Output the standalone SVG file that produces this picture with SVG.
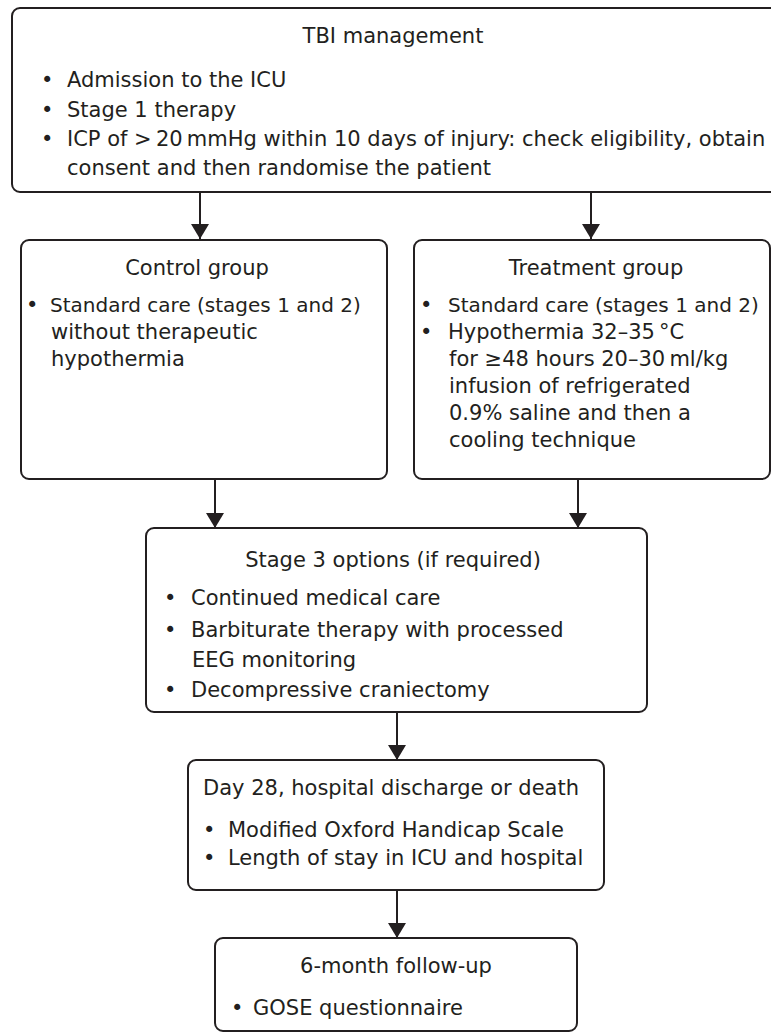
<svg xmlns="http://www.w3.org/2000/svg" width="771" height="1035" viewBox="0 0 771 1035">
<style>
.box{fill:#fff;stroke:#231f20;stroke-width:2}
.t{font-family:"DejaVu Sans","Noto Sans",sans-serif;font-size:21px;fill:#231f20}
.s{font-size:20px}
.m{text-anchor:middle}
.c{stroke:#231f20;stroke-width:2;fill:none;marker-end:url(#ah)}
</style>
<defs>
<marker id="ah" markerUnits="userSpaceOnUse" viewBox="0 0 15 18" refX="15" refY="9" markerWidth="15" markerHeight="18" orient="auto">
<path d="M0,0 L15,9 L0,18 Z" fill="#231f20"/>
</marker>
</defs>
<rect width="771" height="1035" fill="#fff"/>
<g id="connectors">
<line class="c" x1="200" y1="192" x2="200" y2="239"/>
<line class="c" x1="591" y1="192" x2="591" y2="239"/>
<line class="c" x1="215" y1="479" x2="215" y2="528"/>
<line class="c" x1="578" y1="479" x2="578" y2="528"/>
<line class="c" x1="397" y1="712" x2="397" y2="760"/>
<line class="c" x1="397" y1="890" x2="397" y2="938"/>
</g>
<g id="tbi">
<rect class="box" x="12" y="8" width="770" height="184" rx="8"/>
<text class="t m" x="393" y="43">TBI management</text>
<text class="t" x="41" y="87">•</text><text class="t" x="67" y="87">Admission to the ICU</text>
<text class="t" x="41" y="117">•</text><text class="t" x="67" y="117">Stage 1 therapy</text>
<text class="t" x="41" y="146">•</text><text class="t" x="67" y="146">ICP of &gt;&#8201;20&#8201;mmHg within 10 days of injury: check eligibility, obtain</text>
<text class="t" x="67" y="175">consent and then randomise the patient</text>
</g>
<g id="control">
<rect class="box" x="21" y="240" width="366" height="239" rx="8"/>
<text class="t m" x="197" y="275">Control group</text>
<text class="t" x="26" y="312">•</text><text class="t s" x="50" y="312">Standard care (stages 1 and 2)</text>
<text class="t" x="51" y="339">without therapeutic</text>
<text class="t" x="51" y="366">hypothermia</text>
</g>
<g id="treatment">
<rect class="box" x="414" y="240" width="356" height="239" rx="8"/>
<text class="t m" x="596" y="275">Treatment group</text>
<text class="t" x="420" y="312">•</text><text class="t s" x="448" y="312">Standard care (stages 1 and 2)</text>
<text class="t" x="420" y="339">•</text><text class="t" x="448" y="339">Hypothermia 32–35&#8201;°C</text>
<text class="t" x="449" y="366">for ≥48 hours 20–30&#8201;ml/kg</text>
<text class="t" x="449" y="393">infusion of refrigerated</text>
<text class="t" x="449" y="420">0.9% saline and then a</text>
<text class="t" x="449" y="447">cooling technique</text>
</g>
<g id="stage3">
<rect class="box" x="146" y="528" width="501" height="184" rx="8"/>
<text class="t m" x="393" y="567">Stage 3 options (if required)</text>
<text class="t" x="164" y="605">•</text><text class="t" x="191" y="605">Continued medical care</text>
<text class="t" x="164" y="637">•</text><text class="t" x="191" y="637">Barbiturate therapy with processed</text>
<text class="t" x="192" y="667">EEG monitoring</text>
<text class="t" x="164" y="697">•</text><text class="t" x="191" y="697">Decompressive craniectomy</text>
</g>
<g id="day28">
<rect class="box" x="188" y="760" width="416" height="130" rx="8"/>
<text class="t m" x="391" y="795">Day 28, hospital discharge or death</text>
<text class="t" x="203" y="837">•</text><text class="t" x="228" y="837">Modified Oxford Handicap Scale</text>
<text class="t" x="203" y="865">•</text><text class="t" x="228" y="865">Length of stay in ICU and hospital</text>
</g>
<g id="followup">
<rect class="box" x="215" y="938" width="362" height="93" rx="8"/>
<text class="t m" x="396" y="973">6-month follow-up</text>
<text class="t" x="231" y="1015">•</text><text class="t" x="253" y="1015">GOSE questionnaire</text>
</g>
</svg>
